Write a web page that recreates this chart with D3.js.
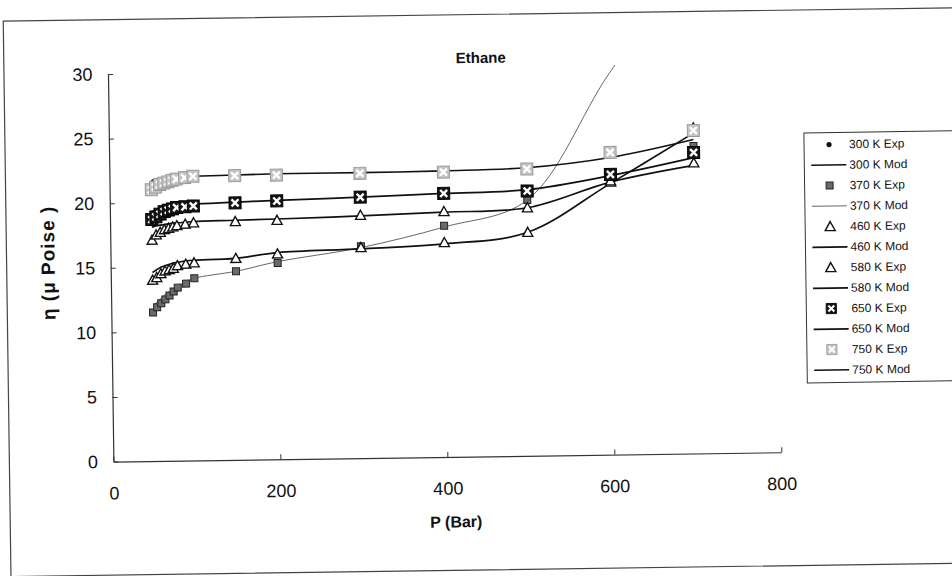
<!DOCTYPE html>
<html>
<head>
<meta charset="utf-8">
<script src="https://cdn.jsdelivr.net/npm/d3@7"></script>
<style>
  body { margin: 0; background: #fff; }
  text { font-family: Arial, "Liberation Sans", sans-serif; fill: #111; }
</style>
</head>
<body>
<svg id="chart" width="952" height="576"></svg>
<script>
// pressures (bar) shared by every series
const pressures = [50, 55, 60, 65, 70, 75, 80, 90, 100, 150, 200, 300, 400, 500, 600, 700];

// experimental points
const exp300 = [];
const exp370 = [11.5, 11.9, 12.2, 12.5, 12.8, 13.1, 13.4, 13.7, 14.1, 14.6, 15.2, 16.4, 17.9, 19.8, 21.3, 23.8];
const exp460 = [14.0, 14.2, 14.5, 14.7, 14.8, 14.9, 15.1, 15.2, 15.3, 15.6, 15.9, 16.3, 16.6, 17.3, 21.1, 25.2];
const exp580 = [17.1, 17.5, 17.7, 17.9, 18.0, 18.1, 18.2, 18.3, 18.4, 18.45, 18.5, 18.8, 19.0, 19.2, 21.2, 22.5];
const exp650 = [18.7, 18.9, 19.1, 19.3, 19.4, 19.5, 19.6, 19.65, 19.7, 19.9, 20.0, 20.2, 20.4, 20.5, 21.7, 23.3];
const exp750 = [21.0, 21.2, 21.4, 21.5, 21.6, 21.7, 21.8, 21.9, 22.0, 22.0, 22.0, 22.05, 22.05, 22.2, 23.4, 25.0];

// model curves
const mod300 = [];
const mod370 = [12.0, 12.3, 12.6, 12.9, 13.1, 13.3, 13.5, 13.8, 14.1, 14.6, 15.3, 16.3, 17.8, 19.8, 29.5, 38.0];
const mod460 = [14.6, 14.8, 15.0, 15.1, 15.2, 15.3, 15.35, 15.45, 15.5, 15.6, 16.0, 16.2, 16.5, 17.3, 21.0, 24.8];
const mod580 = [18.1, 18.2, 18.25, 18.3, 18.35, 18.4, 18.4, 18.45, 18.5, 18.55, 18.6, 18.75, 18.95, 19.2, 21.1, 22.3];
const mod650 = [19.3, 19.4, 19.5, 19.6, 19.65, 19.7, 19.75, 19.8, 19.85, 19.95, 20.05, 20.2, 20.4, 20.6, 21.6, 22.9];
const mod750 = [21.7, 21.8, 21.85, 21.9, 21.9, 21.95, 22.0, 22.0, 22.0, 22.05, 22.1, 22.1, 22.15, 22.3, 23.0, 24.3];

const legendLabels = ["300 K Exp", "300 K Mod", "370 K Exp", "370 K Mod", "460 K Exp", "460 K Mod",
                      "580 K Exp", "580 K Mod", "650 K Exp", "650 K Mod", "750 K Exp", "750 K Mod"];

const xTicks = [0, 200, 400, 600, 800];
const yTicks = [0, 5, 10, 15, 20, 25, 30];

const svg = d3.select("#chart");
svg.append("rect").attr("width", 952).attr("height", 576).attr("fill", "#fff");

// the scanned page is tilted a little
const page = svg.append("g").attr("transform", "rotate(-0.8, 476, 288)");

// outer frame
page.append("rect")
    .attr("x", 7).attr("y", 14.5)
    .attr("width", 960).attr("height", 555.5)
    .attr("fill", "none")
    .attr("stroke", "#444")
    .attr("stroke-width", 1.2);

const x = d3.scaleLinear().domain([0, 800]).range([111, 779]);
const y = d3.scaleLinear().domain([0, 30]).range([456.5, 69]);

// axes with inside ticks
const yAxis = page.append("g")
    .attr("transform", `translate(${x(0)},0)`)
    .call(d3.axisLeft(y).tickValues(yTicks).tickSizeInner(-5).tickSizeOuter(0).tickPadding(15.5));
const xAxis = page.append("g")
    .attr("transform", `translate(0,${y(0)})`)
    .call(d3.axisBottom(x).tickValues(xTicks).tickSizeInner(-5).tickSizeOuter(0).tickPadding(25));

[xAxis, yAxis].forEach(a => {
    a.select(".domain").attr("stroke", "#333").attr("stroke-width", 1.2);
    a.selectAll(".tick line").attr("stroke", "#333");
    a.selectAll(".tick text")
        .attr("fill", "#111")
        .style("font-size", "18px")
        .style("font-family", "Arial, 'Liberation Sans', sans-serif");
});

// titles
page.append("text")
    .attr("x", 484).attr("y", 63)
    .attr("text-anchor", "middle")
    .style("font-size", "15px").style("font-weight", "bold")
    .text("Ethane");

page.append("text")
    .attr("x", 453).attr("y", 527)
    .attr("text-anchor", "middle")
    .style("font-size", "16px").style("font-weight", "bold")
    .text("P (Bar)");

page.append("text")
    .attr("transform", "translate(55,257) rotate(-90)")
    .attr("text-anchor", "middle")
    .style("font-size", "19px").style("font-weight", "bold")
    .style("letter-spacing", "1px")
    .text("\u03b7 (\u03bc Poise )");

// clip to the plot area
page.append("defs").append("clipPath").attr("id", "plotClip")
    .append("rect")
    .attr("x", x(0)).attr("y", y(30) - 2)
    .attr("width", x(800) - x(0)).attr("height", y(0) - y(30) + 2);

const plot = page.append("g").attr("clip-path", "url(#plotClip)");

const line = d3.line()
    .x(d => x(d[0]))
    .y(d => y(d[1]))
    .curve(d3.curveCatmullRom.alpha(0.5));

const pairs = vals => vals.map((v, i) => [pressures[i], v]);

// model lines
const models = [
    { vals: mod300, w: 1.6, c: "#111" },
    { vals: mod370, w: 0.9, c: "#555" },
    { vals: mod460, w: 1.7, c: "#111" },
    { vals: mod580, w: 1.7, c: "#111" },
    { vals: mod650, w: 1.7, c: "#111" },
    { vals: mod750, w: 1.6, c: "#111" }
];
models.forEach(m => {
    if (!m.vals.length) return;
    plot.append("path")
        .attr("d", line(pairs(m.vals)))
        .attr("fill", "none")
        .attr("stroke", m.c)
        .attr("stroke-width", m.w);
});

// marker painters
function drawCircle(g) {
    g.append("circle").attr("r", 2.6).attr("fill", "#111");
}
function drawSquare(g) {
    g.append("rect").attr("x", -3.5).attr("y", -3.5).attr("width", 7).attr("height", 7)
        .attr("fill", "#6a6a6a").attr("stroke", "#222").attr("stroke-width", 1);
}
function drawTriangle(g) {
    g.append("path").attr("d", "M0,-5L5,4L-5,4Z")
        .attr("fill", "#fff").attr("stroke", "#111").attr("stroke-width", 1.4);
}
function drawXBox(fill, stroke) {
    return g => {
        g.append("rect").attr("x", -6).attr("y", -6).attr("width", 12).attr("height", 12)
            .attr("fill", fill).attr("stroke", stroke).attr("stroke-width", 1);
        g.append("path").attr("d", "M-3.5,-3.5L3.5,3.5M-3.5,3.5L3.5,-3.5")
            .attr("stroke", "#fff").attr("stroke-width", 2.4);
    };
}

const exps = [
    { vals: exp300, draw: drawCircle },
    { vals: exp370, draw: drawSquare },
    { vals: exp460, draw: drawTriangle },
    { vals: exp580, draw: drawTriangle },
    { vals: exp650, draw: drawXBox("#151515", "#000") },
    { vals: exp750, draw: drawXBox("#c4c4c4", "#9a9a9a") }
];
exps.forEach(s => {
    page.append("g").selectAll("g")
        .data(pairs(s.vals))
        .enter()
        .append("g")
        .attr("transform", d => `translate(${x(d[0])},${y(d[1])})`)
        .each(function () { s.draw(d3.select(this)); });
});

// legend
const legX = 806, legY = 137.5, rowH = 20.5;
const legend = page.append("g");
legend.append("rect")
    .attr("x", legX).attr("y", legY)
    .attr("width", 170).attr("height", rowH * legendLabels.length + 4)
    .attr("fill", "#fff").attr("stroke", "#333").attr("stroke-width", 1);

legendLabels.forEach((lab, i) => {
    const cy = legY + 12 + i * rowH;
    const row = legend.append("g");
    if (i % 2 === 0) {
        const mk = row.append("g").attr("transform", `translate(831,${cy})`);
        const draw = exps[i / 2].draw;
        draw(mk);
        if (i >= 8) mk.attr("transform", `translate(831,${cy}) scale(0.85)`);
    } else {
        const m = models[(i - 1) / 2];
        row.append("line")
            .attr("x1", 813).attr("x2", 848)
            .attr("y1", cy).attr("y2", cy)
            .attr("stroke", m.c).attr("stroke-width", m.w);
    }
    row.append("text")
        .attr("x", 851).attr("y", cy + 4)
        .style("font-size", "12px")
        .text(lab);
});
</script>
</body>
</html>
